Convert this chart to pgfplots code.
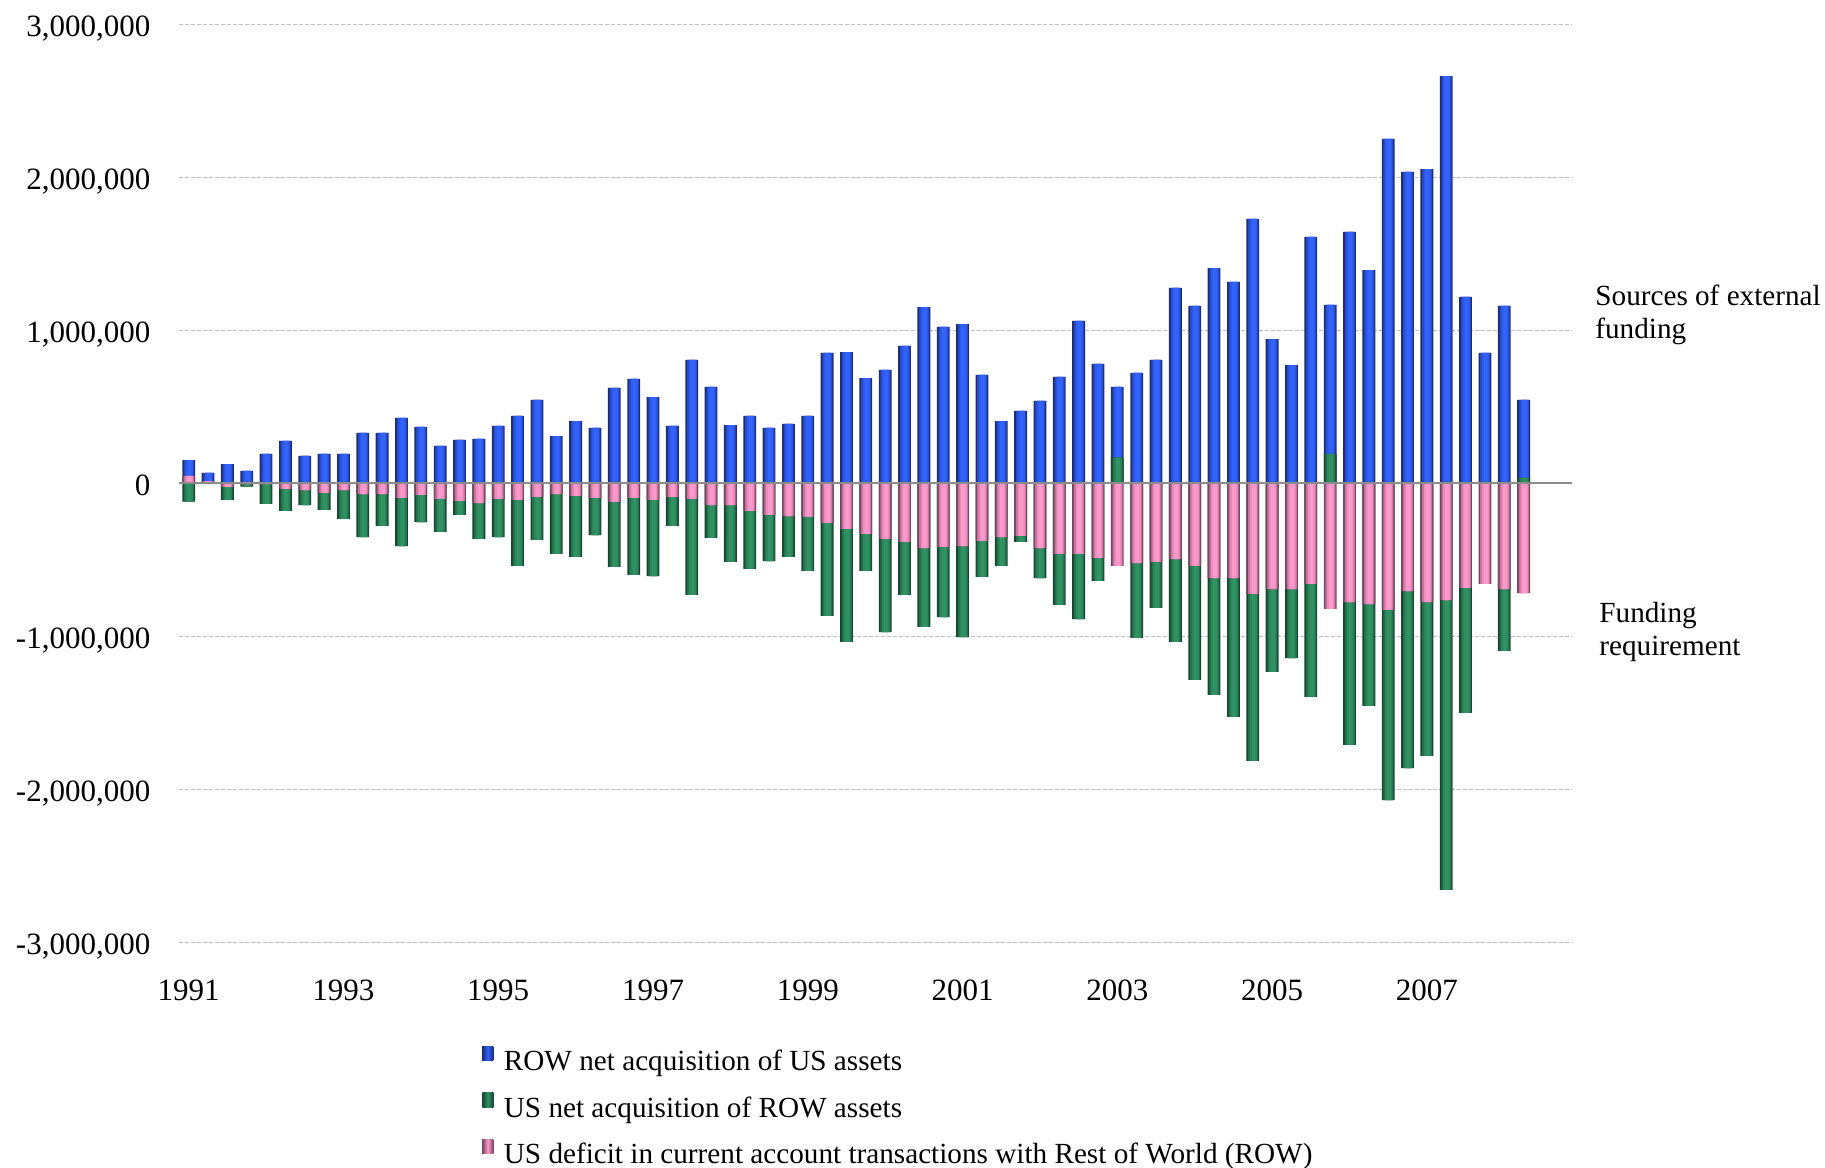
\documentclass[border=0pt]{standalone}
\usepackage{fontspec}
\setmainfont{Liberation Serif}
\usepackage{pgfplots}
\usepackage{pgfplotstable}
\pgfplotsset{compat=1.18}
\definecolor{bluedark}{RGB}{26,44,118}
\definecolor{bluelight}{RGB}{50,98,255}
\definecolor{greendark}{RGB}{22,70,46}
\definecolor{greenlight}{RGB}{48,145,98}
\definecolor{pinkdark}{RGB}{120,70,96}
\definecolor{pinklight}{RGB}{255,153,204}
\definecolor{gridgray}{RGB}{192,192,192}
\definecolor{zerogray}{RGB}{140,140,140}
\pgfplotsset{
  layA/.style={ybar, bar width=6.4pt, bar shift=0pt, draw=none},
  layB/.style={ybar, bar width=5.0pt, bar shift=0.15pt, draw=none, forget plot},
  layC/.style={ybar, bar width=3.6pt, bar shift=0.3pt, draw=none, forget plot},
  layD/.style={ybar, bar width=2.0pt, bar shift=0.4pt, draw=none, forget plot},
}
% top of positive stack (top of blue bars)
\pgfplotstableread{
i v
0 152000
1 67500
2 126000
3 81000
4 192000
5 277000
6 179000
7 192000
8 192000
9 329000
10 329000
11 427000
12 368000
13 244000
14 283000
15 290000
16 375000
17 440000
18 545000
19 309000
20 407000
21 362000
22 623000
23 682000
24 564000
25 375000
26 806000
27 630000
28 381000
29 440000
30 362000
31 388000
32 440000
33 852000
34 858000
35 688000
36 741000
37 898000
38 1152000
39 1022000
40 1041000
41 708000
42 407000
43 473000
44 538000
45 695000
46 1061000
47 780000
48 630000
49 721000
50 806000
51 1277000
52 1159000
53 1407000
54 1316000
55 1728000
56 943000
57 773000
58 1610000
59 1166000
60 1643000
61 1394000
62 2251000
63 2035000
64 2054000
65 2662000
66 1218000
67 852000
68 1159000
69 545000
}\bluetab
% top of positive green part
\pgfplotstableread{
i v
48 168000
59 192000
67 9000
69 35000
}\greenpostab
% top of positive pink part
\pgfplotstableread{
i v
0 48000
1 15000
}\pinkpostab
% bottom of negative stack (bottom of green bars)
\pgfplotstableread{
i v
0 -120000
2 -109000
3 -22000
4 -135000
5 -181000
6 -142000
7 -174000
8 -233000
9 -351000
10 -279000
11 -410000
12 -253000
13 -318000
14 -207000
15 -364000
16 -351000
17 -540000
18 -370000
19 -462000
20 -481000
21 -338000
22 -547000
23 -599000
24 -606000
25 -279000
26 -730000
27 -357000
28 -514000
29 -560000
30 -508000
31 -481000
32 -573000
33 -867000
34 -1037000
35 -573000
36 -972000
37 -730000
38 -939000
39 -874000
40 -1005000
41 -612000
42 -540000
43 -383000
44 -619000
45 -795000
46 -887000
47 -638000
49 -1011000
50 -815000
51 -1037000
52 -1285000
53 -1383000
54 -1527000
55 -1815000
56 -1233000
57 -1142000
58 -1396000
60 -1710000
61 -1455000
62 -2070000
63 -1861000
64 -1782000
65 -2658000
66 -1501000
68 -1096000
}\greennegtab
% bottom of negative pink part
\pgfplotstableread{
i v
2 -24000
3 -6000
4 -5000
5 -37000
6 -44000
7 -63000
8 -44000
9 -70000
10 -70000
11 -96000
12 -76000
13 -102000
14 -115000
15 -129000
16 -102000
17 -109000
18 -89000
19 -70000
20 -83000
21 -96000
22 -122000
23 -96000
24 -109000
25 -89000
26 -102000
27 -142000
28 -142000
29 -181000
30 -207000
31 -214000
32 -220000
33 -259000
34 -298000
35 -331000
36 -364000
37 -383000
38 -423000
39 -416000
40 -410000
41 -377000
42 -351000
43 -344000
44 -423000
45 -462000
46 -462000
47 -488000
48 -540000
49 -521000
50 -514000
51 -495000
52 -540000
53 -619000
54 -619000
55 -723000
56 -691000
57 -691000
58 -658000
59 -821000
60 -776000
61 -789000
62 -828000
63 -704000
64 -776000
65 -763000
66 -684000
67 -658000
68 -691000
69 -717000
}\pinknegtab
\begin{document}
\begin{tikzpicture}
\begin{axis}[
  at={(0pt,0pt)}, anchor=south west,
  width=696.5pt, height=459pt, scale only axis,
  xmin=-0.5, xmax=71.5, ymin=-3000000, ymax=3000000,
  enlargelimits=false,
  scaled y ticks=false, scaled x ticks=false,
  axis line style={draw=none},
  major tick length=0pt,
  xtick={0,8,...,64},
  xticklabels={1991,1993,1995,1997,1999,2001,2003,2005,2007},
  ytick={-3000000,-2000000,-1000000,0,1000000,2000000,3000000},
  yticklabels={{-3,000,000},{-2,000,000},{-1,000,000},0,{1,000,000},{2,000,000},{3,000,000}},
  ymajorgrids,
  grid style={gridgray, dash pattern=on 2pt off 1pt, line width=0.6pt},
  tick label style={font=\fontsize{15.5}{18}\selectfont},
  yticklabel style={anchor=base east, inner sep=0pt, xshift=-14.15pt, yshift=-6.3pt},
  xticklabel style={anchor=base, inner sep=0pt, yshift=-28.85pt},
  legend style={at={(axis description cs:0.21773,-0.1131)}, anchor=north west,
    draw=none, fill=none, inner sep=0pt, outer sep=0pt,
    row sep=8.1pt, column sep=5.3pt,
    font=\fontsize{14.6}{17}\selectfont,
    nodes={inner sep=0pt, text height=10pt, text depth=3pt}},
  legend cell align=left,
]
% ROW net acquisition of US assets (blue)
\addplot[layA, fill=bluedark,
  legend image code/.code={\path[left color=bluedark,right color=bluedark,middle color=bluelight] (0pt,1.5pt) rectangle (5.5pt,8.7pt);}]
  table[x=i,y=v] {\bluetab};
\addplot[layB, fill=bluelight!55!bluedark] table[x=i,y=v] {\bluetab};
\addplot[layC, fill=bluelight!85!bluedark] table[x=i,y=v] {\bluetab};
\addplot[layD, fill=bluelight] table[x=i,y=v] {\bluetab};
% US net acquisition of ROW assets, positive part (green)
\addplot[layA, fill=greendark,
  legend image code/.code={\path[left color=greendark,right color=greendark,middle color=greenlight] (0pt,1.5pt) rectangle (5.5pt,8.7pt);}]
  table[x=i,y=v] {\greenpostab};
\addplot[layB, fill=greenlight!55!greendark] table[x=i,y=v] {\greenpostab};
\addplot[layC, fill=greenlight!85!greendark] table[x=i,y=v] {\greenpostab};
\addplot[layD, fill=greenlight] table[x=i,y=v] {\greenpostab};
% US deficit, positive part (pink)
\addplot[layA, fill=pinkdark,
  legend image code/.code={\path[left color=pinkdark,right color=pinkdark,middle color=pinklight] (0pt,1.5pt) rectangle (5.5pt,8.7pt);}]
  table[x=i,y=v] {\pinkpostab};
\addplot[layB, fill=pinklight!55!pinkdark] table[x=i,y=v] {\pinkpostab};
\addplot[layC, fill=pinklight!85!pinkdark] table[x=i,y=v] {\pinkpostab};
\addplot[layD, fill=pinklight] table[x=i,y=v] {\pinkpostab};
% negative green
\addplot[layA, fill=greendark, forget plot] table[x=i,y=v] {\greennegtab};
\addplot[layB, fill=greenlight!55!greendark] table[x=i,y=v] {\greennegtab};
\addplot[layC, fill=greenlight!85!greendark] table[x=i,y=v] {\greennegtab};
\addplot[layD, fill=greenlight] table[x=i,y=v] {\greennegtab};
% negative pink
\addplot[layA, fill=pinkdark, forget plot] table[x=i,y=v] {\pinknegtab};
\addplot[layB, fill=pinklight!55!pinkdark] table[x=i,y=v] {\pinknegtab};
\addplot[layC, fill=pinklight!85!pinkdark] table[x=i,y=v] {\pinknegtab};
\addplot[layD, fill=pinklight] table[x=i,y=v] {\pinknegtab};
\legend{ROW net acquisition of US assets, US net acquisition of ROW assets, US deficit in current account transactions with Rest of World (ROW)}
\draw[zerogray, line width=1pt] (axis cs:-0.5,0) -- (axis cs:71.5,0);
\end{axis}
\begin{scope}[every node/.style={inner sep=0pt, anchor=base west, font=\fontsize{14.6}{17}\selectfont}]
\node at (708pt,318.15pt) {Sources of external};
\node at (708pt,301.65pt) {funding};
\node at (710pt,159.65pt) {Funding};
\node at (710pt,143.15pt) {requirement};
\end{scope}
\pgfresetboundingbox
\path[use as bounding box] (-89.5pt,-112.35pt) rectangle (823pt,471.15pt);
\end{tikzpicture}
\end{document}
